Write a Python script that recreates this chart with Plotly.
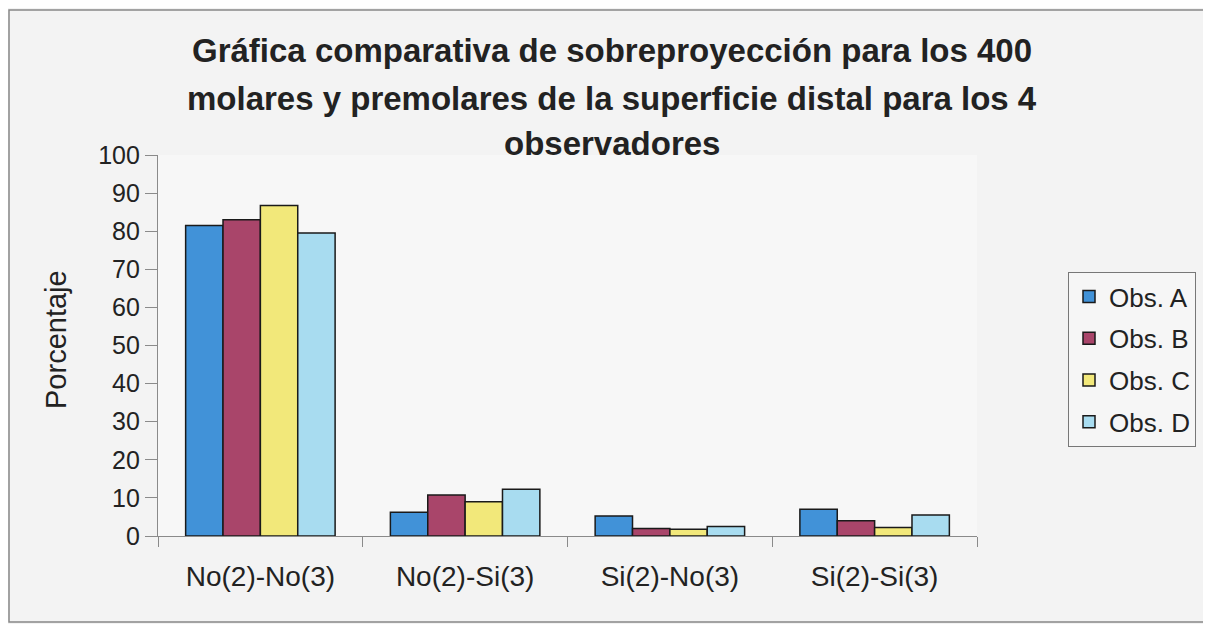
import plotly.graph_objects as go

categories = ["No(2)-No(3)", "No(2)-Si(3)", "Si(2)-No(3)", "Si(2)-Si(3)"]
obs_a = [81.5, 6.25, 5.25, 7.0]
obs_b = [83.0, 10.75, 2.0, 4.0]
obs_c = [86.75, 9.0, 1.75, 2.25]
obs_d = [79.5, 12.25, 2.5, 5.5]
series_names = ["Obs. A", "Obs. B", "Obs. C", "Obs. D"]
colors = ["#4192d8", "#a9456a", "#f2e87a", "#a8dcf0"]
title_lines = [
    "Gráfica comparativa de sobreproyección para los 400",
    "molares y premolares de la superficie distal para los 4",
    "observadores",
]
y_title = "Porcentaje"
y_ticks = list(range(0, 101, 10))

FONT = "Liberation Sans, Arial, sans-serif"

fig = go.Figure()
for name, vals, col in zip(series_names, [obs_a, obs_b, obs_c, obs_d], colors):
    fig.add_trace(go.Bar(
        x=categories, y=vals, name=name, legendgroup=name,
        marker=dict(color=col, line=dict(color="#1a1a1a", width=1.5)),
    ))

# page has an 8px body margin; work in reference pixels minus 8
OFF = 8
W, H = 1203, 616
L, R, T, B = 150, 234, 147, 88
pw = W - L - R
ph = H - T - B

def px_x(x):
    return (x - OFF - L) / pw

def px_y(y):
    return (H - B - (y - OFF)) / ph

annotations = []
for line, yc in zip(title_lines, [50, 98, 143]):
    annotations.append(dict(
        text="<b>" + line + "</b>", x=px_x(612), y=px_y(yc),
        xref="paper", yref="paper", xanchor="center", yanchor="middle",
        showarrow=False, font=dict(family=FONT, size=33, color="#222222"),
    ))
annotations.append(dict(
    text=y_title, x=px_x(56), y=px_y(340), xref="paper", yref="paper",
    xanchor="center", yanchor="middle", textangle=-90, showarrow=False,
    font=dict(family=FONT, size=29, color="#222222"),
))

fig.update_layout(
    width=W, height=H,
    margin=dict(l=L, r=R, t=T, b=B, autoexpand=False),
    paper_bgcolor="#f3f3f3",
    plot_bgcolor="#f7f7f7",
    barmode="group",
    bargap=0.27,
    bargroupgap=0,
    font=dict(family=FONT, size=22, color="#333333"),
    annotations=annotations,
    showlegend=True,
    legend=dict(
        x=px_x(1068), y=px_y(272), xanchor="left", yanchor="top",
        bordercolor="#777777", borderwidth=1, bgcolor="#f6f6f6",
        font=dict(family=FONT, size=26, color="#222222"),
        tracegroupgap=5,
    ),
    shapes=[dict(
        type="rect", xref="paper", yref="paper",
        x0=px_x(9), x1=px_x(1209), y0=px_y(622), y1=px_y(10),
        line=dict(color="#888888", width=1.5), fillcolor="rgba(0,0,0,0)",
        layer="below",
    )],
)
fig.update_xaxes(
    showline=True, linecolor="#8a8a8a", linewidth=1.2,
    ticks="outside", tickson="boundaries", ticklen=10, tickcolor="#8a8a8a",
    ticklabelstandoff=15,
    showgrid=False, tickfont=dict(family=FONT, size=28, color="#222222"),
)
fig.update_yaxes(
    range=[0, 100], tickvals=y_ticks,
    showline=True, linecolor="#8a8a8a", linewidth=1.2,
    ticks="outside", ticklen=12, tickcolor="#8a8a8a",
    showgrid=False, zeroline=False,
    tickfont=dict(family=FONT, size=25, color="#222222"),
)

fig.write_html("out.html")
